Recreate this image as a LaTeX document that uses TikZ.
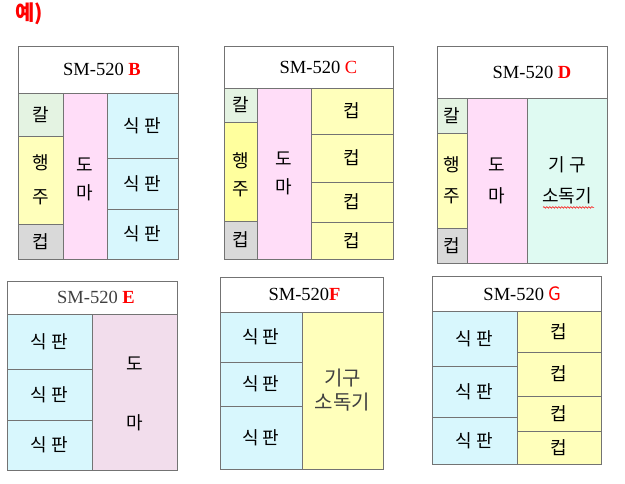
\documentclass[tikz,border=0pt]{standalone}
\usepackage{fontspec}
\setmainfont{Liberation Serif}
\newfontfamily\kr{Noto Sans CJK KR}
\usetikzlibrary{calc,decorations.pathmorphing}
\definecolor{kalgreen}{HTML}{E4F3E2}
\definecolor{haengyellow}{HTML}{FFFFBB}
\definecolor{haengdeep}{HTML}{FFFF9E}
\definecolor{cupgray}{HTML}{D9D9D9}
\definecolor{cupyellow}{HTML}{FFFFBB}
\definecolor{domapink}{HTML}{FFDDF8}
\definecolor{domamauve}{HTML}{F2DDEC}
\definecolor{sikcyan}{HTML}{D8F7FD}
\definecolor{gigumint}{HTML}{DFFAF2}
\definecolor{textgray}{HTML}{404040}
\tikzset{
   cellline/.style = {draw=black!55, line width=0.8pt},
   celltext/.style = {font=\kr\fontsize{18}{28}\selectfont, align=center, inner sep=0pt},
   headtext/.style = {font=\fontsize{18.5}{20}\selectfont, inner sep=0pt},
   wavyline/.style = {red, line width=0.6pt, decorate, decoration={snake, amplitude=0.8pt, segment length=3pt}}
}
\newcommand{\mletter}[1]{\textcolor{red}{\textbf{#1}}}
\newcommand{\cellbox}[6][]{
   \draw[cellline, fill=#5] (#3) rectangle (#4);
   \node[celltext, #1] (#2) at ($ (#3)!.5!(#4) $) {#6};
}
\newcommand{\headbox}[5][]{
   \draw[cellline, fill=white] (#3) rectangle (#4);
   \node[headtext, #1] (#2) at ($ (#3)!.5!(#4) $) {#5};
}

\begin{document}
\begin{tikzpicture}[x=1pt, y=-1pt]
		\useasboundingbox (0,0) rectangle (625,484);
		
		% Title
		\node[font=\kr\bfseries\fontsize{21}{22}\selectfont, text=red] (title) at (29,14) {예)};
		
		% SM-520 B
		\headbox[xshift=4pt]{hB}{18,46}{178,93}{SM-520 \mletter{B}}
		\cellbox{bKal}{18,93}{63,136}{kalgreen}{칼}
		\cellbox{bHaeng}{18,136}{63,224}{haengyellow}{행\\[6pt]주}
		\cellbox{bCup}{18,224}{63,259}{cupgray}{컵}
		\cellbox[yshift=-3pt]{bDoma}{63,93}{107,259}{domapink}{도\\마}
		\cellbox{bSik1}{107,93}{178,158}{sikcyan}{식 판}
		\cellbox{bSik2}{107,158}{178,209}{sikcyan}{식 판}
		\cellbox{bSik3}{107,209}{178,259}{sikcyan}{식 판}
		
		% SM-520 C
		\headbox[xshift=10pt]{hC}{224,46}{393,88}{SM-520 \textcolor{red}{C}}
		\cellbox{cKal}{224,88}{257,122}{kalgreen}{칼}
		\cellbox[yshift=-3pt]{cHaeng}{224,122}{257,221}{haengdeep}{행\\주}
		\cellbox{cCup}{224,221}{257,259}{cupgray}{컵}
		\cellbox{cDoma}{257,88}{311,259}{domapink}{도\\마}
		\cellbox{cCup1}{311,88}{393,134}{cupyellow}{컵}
		\cellbox{cCup2}{311,134}{393,182}{cupyellow}{컵}
		\cellbox{cCup3}{311,182}{393,222}{cupyellow}{컵}
		\cellbox{cCup4}{311,222}{393,259}{cupyellow}{컵}
		
		% SM-520 D
		\headbox[xshift=10pt]{hD}{437,46}{607,98}{SM-520 \mletter{D}}
		\cellbox{dKal}{437,98}{467,133}{kalgreen}{칼}
		\cellbox{dHaeng}{437,133}{467,228}{haengyellow}{행\\[3pt]주}
		\cellbox{dCup}{437,228}{467,263}{cupgray}{컵}
		\cellbox{dDoma}{467,98}{527,263}{domapink}{도\\[3pt]마}
		\cellbox{dGigu}{527,98}{607,263}{gigumint}{기 구\\[3pt]소독기}
		\draw[wavyline] ($ (dGigu.south west)+(1,3) $) -- ($ (dGigu.south east)+(2,3) $);
		
		% SM-520 E
		\headbox[xshift=4pt]{hE}{7,281}{177,314}{\textcolor{textgray}{SM-520} \mletter{E}}
		\cellbox{eSik1}{7,314}{92,369}{sikcyan}{식 판}
		\cellbox{eSik2}{7,369}{92,420}{sikcyan}{식 판}
		\cellbox{eSik3}{7,420}{92,470}{sikcyan}{식 판}
		\cellbox[yshift=-2pt]{eDoma}{92,314}{177,470}{domamauve}{도\\[31pt]마}
		
		% SM-520 F
		\headbox[xshift=3pt]{hF}{220,277}{383,312}{SM-520\mletter{F}}
		\cellbox{fSik1}{220,312}{302,362}{sikcyan}{식 판}
		\cellbox{fSik2}{220,362}{302,406}{sikcyan}{식 판}
		\cellbox{fSik3}{220,406}{302,469}{sikcyan}{식 판}
		\cellbox[font=\kr\fontsize{20}{24}\selectfont, text=textgray]{fGigu}{302,312}{383,469}{haengyellow}{기구\\소독기}
		
		% SM-520 G
		\headbox[xshift=6pt]{hG}{432,276}{601,311}{SM-520 \textcolor{red}{\kr G}}
		\cellbox{gSik1}{432,311}{517,366}{sikcyan}{식 판}
		\cellbox{gSik2}{432,366}{517,417}{sikcyan}{식 판}
		\cellbox{gSik3}{432,417}{517,464}{sikcyan}{식 판}
		\cellbox{gCup1}{517,311}{601,352}{cupyellow}{컵}
		\cellbox{gCup2}{517,352}{601,396}{cupyellow}{컵}
		\cellbox{gCup3}{517,396}{601,431}{cupyellow}{컵}
		\cellbox{gCup4}{517,431}{601,464}{cupyellow}{컵}
	\end{tikzpicture}
\end{document}
